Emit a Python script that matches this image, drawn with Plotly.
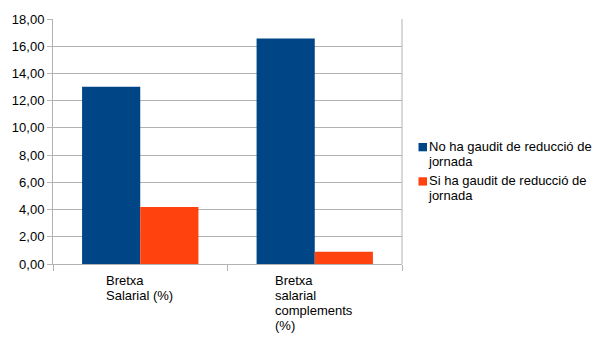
import plotly.graph_objects as go

categories = ["Bretxa Salarial (%)", "Bretxa salarial complements (%)"]
category_lines = [["Bretxa", "Salarial (%)"], ["Bretxa", "salarial", "complements", "(%)"]]
series_names = ["No ha gaudit de reducció de jornada", "Si ha gaudit de reducció de jornada"]
series_lines = [["No ha gaudit de reducció de", "jornada"], ["Si ha gaudit de reducció de", "jornada"]]
series_colors = ["#004586", "#ff420e"]
no_reduccio = [13.03, 16.56]
si_reduccio = [4.18, 0.90]
y_ticks = [0, 2, 4, 6, 8, 10, 12, 14, 16, 18]

FAMILY = "Liberation Sans, Arial, sans-serif"
FONT = dict(family=FAMILY, size=13, color="#000000")
# annotation base size sets the line pitch (1.3em); text itself is drawn at 13px
PITCH_FONT = dict(family=FAMILY, size=11.5, color="#000000")
GRID = "#b3b3b3"

W, H = 605, 340
L, R, T, B = 53, 203, 14, 76
PW, PH = W - L - R, H - T - B


def px_x(px):
    return (px - L) / PW


def px_y(py):
    return (H - B - py) / PH


def multiline(lines):
    return "<br>".join(f'<span style="font-size:13px">{s}</span>' for s in lines)


fig = go.Figure()
for name, vals, col in zip(series_names, [no_reduccio, si_reduccio], series_colors):
    fig.add_trace(go.Bar(x=categories, y=vals, name=name, showlegend=False,
                         marker=dict(color=col, line=dict(width=0))))

# category labels: block centred under each group, lines left-aligned
for cat, lines in zip(categories, category_lines):
    fig.add_annotation(x=cat, y=0, xref="x", yref="y", text=multiline(lines),
                       showarrow=False, align="left", xanchor="center",
                       yanchor="top", yshift=-8, xshift=-1, font=PITCH_FONT, borderpad=0)

# legend: small square swatch followed by wrapped series name
for i, (lines, col) in enumerate(zip(series_lines, series_colors)):
    top = 140.5 + 35 * i
    fig.add_shape(type="rect", xref="paper", yref="paper",
                  x0=px_x(418.5), x1=px_x(427), y0=px_y(top), y1=px_y(top + 8.5),
                  fillcolor=col, line=dict(width=0))
    fig.add_annotation(x=px_x(427), y=px_y(top - 5), xref="paper", yref="paper",
                       text=multiline(lines), showarrow=False, align="left",
                       xanchor="left", yanchor="top", font=PITCH_FONT, borderpad=0)

fig.update_layout(
    width=W, height=H,
    margin=dict(l=L, r=R, t=T, b=B),
    paper_bgcolor="white", plot_bgcolor="white",
    font=FONT,
    barmode="group", bargap=1/3, bargroupgap=0,
    separators=",.",
    showlegend=False,
    xaxis=dict(type="category", tickson="boundaries", showticklabels=False,
               ticks="outside", ticklen=6, tickcolor=GRID,
               showgrid=False, showline=True, linecolor=GRID,
               zeroline=False),
    yaxis=dict(range=[0, 18], tickvals=y_ticks, tickformat=".2f",
               ticks="outside", ticklen=5, tickcolor=GRID,
               showgrid=True, gridcolor=GRID, gridwidth=1,
               showline=True, linecolor=GRID, zeroline=False,
               tickfont=FONT),
)

# right border of the plotting area
fig.add_shape(type="line", xref="paper", yref="paper", x0=1, x1=1, y0=0, y1=1,
              line=dict(color=GRID, width=1))

fig.write_html("out.html")
